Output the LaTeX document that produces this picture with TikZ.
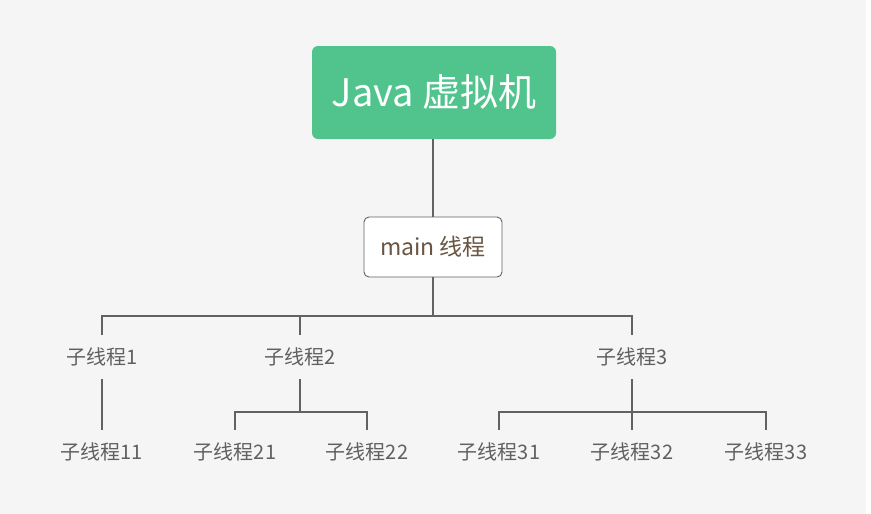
\documentclass[tikz,border=0pt]{standalone}
\usepackage{fontspec}
\setmainfont{Noto Sans CJK SC}
\begin{document}
\begin{tikzpicture}[x=1pt,y=-1pt,
  rootbox/.style={fill=rootgreen, rounded corners=6pt, minimum width=244pt, minimum height=93pt,
    text=white, font=\fontsize{38}{44}\selectfont, inner sep=0pt},
  mainbox/.style={draw=linegray, fill=white, rounded corners=5pt, line width=0.9pt,
    minimum width=138pt, minimum height=60pt, text=maintext, font=\fontsize{23}{27}\selectfont, inner sep=0pt},
  childtxt/.style={minimum height=44pt, text=childtext, font=\fontsize{20}{24}\selectfont, inner sep=0pt},
  thick line/.style={draw=linegray, line width=2.2pt},
  conn/.style={draw=linegray, line width=1.5pt}
]
\definecolor{rootgreen}{HTML}{50C48C}
\definecolor{linegray}{HTML}{626262}
\definecolor{maintext}{HTML}{6A5542}
\definecolor{childtext}{HTML}{606060}
\definecolor{bggray}{HTML}{F5F5F5}
\useasboundingbox (0,0) rectangle (871,514);
\fill[white] (0,0) rectangle (871,514);
\fill[bggray] (0,0) rectangle (866,514);

\node[rootbox] (root) at (434,92.5) {Java 虚拟机};
\node[mainbox] (main) at (433,247) {main 线程};

\node[childtxt] (c1) at (102,357) {子线程1};
\node[childtxt] (c2) at (300,357) {子线程2};
\node[childtxt] (c3) at (632,357) {子线程3};

\node[childtxt] (c11) at (102,452) {子线程11};
\node[childtxt] (c21) at (235,452) {子线程21};
\node[childtxt] (c22) at (367,452) {子线程22};
\node[childtxt] (c31) at (499,452) {子线程31};
\node[childtxt] (c32) at (632,452) {子线程32};
\node[childtxt] (c33) at (766,452) {子线程33};

\draw[thick line] (root.south -| main.north) -- (main.north);

\coordinate (b0) at (main.south |- 0,316);
\draw[thick line] (main.south) -- (b0);
\draw[conn] (c1.north) |- (b0) -| (c3.north);
\draw[conn] (b0 -| c2.north) -- (c2.north);

\draw[conn] (c1.south) -- (c11.north);

\coordinate (b2) at (c2.south |- 0,412);
\draw[conn] (c2.south) -- (b2);
\draw[conn] (c21.north) |- (b2) -| (c22.north);

\coordinate (b3) at (c3.south |- 0,412);
\draw[conn] (c3.south) -- (c32.north);
\draw[conn] (c31.north) |- (b3) -| (c33.north);
\end{tikzpicture}
\end{document}
